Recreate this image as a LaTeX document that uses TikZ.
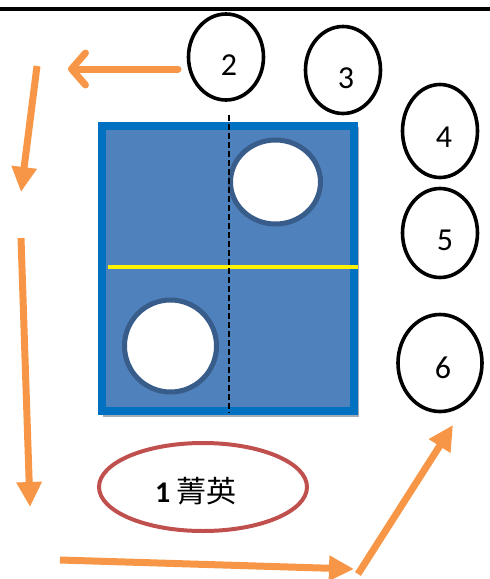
\documentclass[tikz,border=0pt]{standalone}
\usepackage{fontspec}
\setmainfont{Carlito}
\newfontfamily\cjk{Noto Sans CJK TC}
\usetikzlibrary{arrows.meta,shapes.geometric}
\definecolor{orng}{HTML}{F79646}
\definecolor{bluefill}{HTML}{4F81BD}
\definecolor{blueedge}{HTML}{0070C0}
\definecolor{holeedge}{HTML}{385D8A}
\definecolor{rededge}{HTML}{C0504D}
\definecolor{shadowgray}{HTML}{A3ACB8}
\begin{document}
\begin{tikzpicture}[x=1pt,y=-1pt,
  oval/.style={ellipse, draw=black, line width=3.6pt, inner sep=0pt},
  num/.style={font=\fontsize{32}{32}\selectfont, inner sep=0pt},
  hole/.style={ellipse, draw=holeedge, fill=white, line width=5pt, inner sep=0pt},
  farrow/.style={draw=orng, line width=7pt, -{Triangle[length=25pt,width=24pt]}},
  barrow/.style={draw=orng, line width=7pt, line cap=round, -{Straight Barb[length=14pt,width=32pt,round]}}
]
\useasboundingbox (0,0) rectangle (490,579);
% top rule
\draw[line width=3.5pt] (0,9) -- (490,9);

% board
\fill[shadowgray] (103,127) rectangle (359,417);
\node[draw=blueedge, fill=bluefill, line width=8pt, minimum width=252pt, minimum height=285pt, inner sep=0pt] (board) at (228,268.5) {};
\node[hole, minimum width=90pt, minimum height=84pt] (holeA) at (275.5,182) {};
\node[hole, minimum width=92pt, minimum height=92pt] (holeB) at (170.5,346) {};
\draw[yellow, line width=4.5pt] (108,267) -- (358,267);
\draw[line width=1.5pt, dash pattern=on 6pt off 3pt] (229,115) -- (229,413);

% numbered ovals
\node[oval, minimum width=75pt, minimum height=86pt] (o2) at (226,57) {};
\node[num] (t2) at (229,65) {2};
\node[oval, minimum width=75pt, minimum height=87pt] (o3) at (343,70) {};
\node[num] (t3) at (346,78) {3};
\node[oval, minimum width=75pt, minimum height=93pt] (o4) at (440,131) {};
\node[num] (t4) at (444,137) {4};
\node[oval, minimum width=75pt, minimum height=89pt] (o5) at (440,233) {};
\node[num] (t5) at (445,240) {5};
\node[oval, minimum width=84pt, minimum height=97pt] (o6) at (440,363) {};
\node[num] (t6) at (443,368) {6};

% elite oval
\node[ellipse, draw=rededge, line width=4pt, minimum width=208pt, minimum height=88pt, inner sep=0pt] (elite) at (203,487) {};
\node[inner sep=0pt, font=\fontsize{30}{30}\selectfont] (t1) at (196,491) {\textbf{1} {\cjk 菁英}};

% arrows
\coordinate (a1s) at (178,69);
\coordinate (a1e) at (68,69);
\coordinate (a2s) at (37,66);
\coordinate (a2e) at (21,192);
\coordinate (a3s) at (21,238);
\coordinate (a3e) at (30,507);
\coordinate (a4s) at (60,560);
\coordinate (a4e) at (354,569);
\coordinate (a5s) at (358,574);
\coordinate (a5e) at (453,425);
\draw[barrow] (a1s) -- (a1e);
\draw[farrow] (a2s) -- (a2e);
\draw[farrow] (a3s) -- (a3e);
\draw[farrow] (a4s) -- (a4e);
\draw[farrow] (a5s) -- (a5e);
\end{tikzpicture}
\end{document}
